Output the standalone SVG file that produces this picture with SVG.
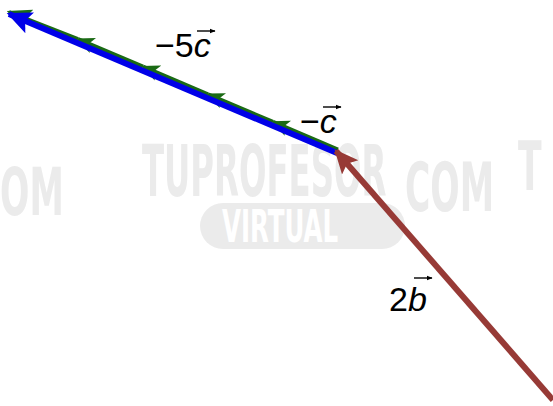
<svg xmlns="http://www.w3.org/2000/svg" width="553" height="406" viewBox="0 0 553 406">
<defs>
<style>
.wm{font-family:"DejaVu Sans Condensed","Liberation Sans",sans-serif;font-weight:bold;font-size:62px;fill:#ebebeb}
.lbl{font-family:"Liberation Sans",Arial,sans-serif;font-size:34px;fill:#000}
.it{font-style:italic}
.vec{stroke:#000;stroke-width:1.4;fill:none}
</style>
<marker id="hg" viewBox="0 0 10 10" refX="9" refY="5" markerWidth="18" markerHeight="18" markerUnits="userSpaceOnUse" orient="auto"><path d="M0,0.5 L10,5 L0,9.5 L2.5,5 Z" fill="#1a6a14"/></marker>
<marker id="hgb" viewBox="0 0 10 10" refX="9" refY="5" markerWidth="24" markerHeight="24" markerUnits="userSpaceOnUse" orient="auto"><path d="M0,0.5 L10,5 L0,9.5 L2,5 Z" fill="#1a6a14"/></marker>
<marker id="hb" viewBox="0 0 10 10" refX="9" refY="5" markerWidth="25" markerHeight="25" markerUnits="userSpaceOnUse" orient="auto"><path d="M0,0.5 L10,5 L0,9.5 L2,5 Z" fill="#0000e8"/></marker>
<marker id="hr" viewBox="0 0 10 10" refX="9" refY="5" markerWidth="24" markerHeight="24" markerUnits="userSpaceOnUse" orient="auto"><path d="M0,0.5 L10,5 L0,9.5 L2,5 Z" fill="#973a36"/></marker>
<marker id="hk" viewBox="0 0 10 10" refX="9" refY="5" markerWidth="6" markerHeight="6" markerUnits="userSpaceOnUse" orient="auto"><path d="M0,1 L10,5 L0,9 Z" fill="#000"/></marker>
</defs>
<g id="watermark">
<text class="wm" transform="translate(0,215) scale(0.62,1.05)">OM</text>
<text class="wm" transform="translate(142,196) scale(0.58,1.15)">TUPROFESOR</text>
<rect x="200" y="203" width="205" height="46" rx="23" fill="#ebebeb"/>
<text transform="translate(222,242) scale(0.62,1)" font-family="DejaVu Sans Condensed,sans-serif" font-weight="bold" font-size="44" fill="#ffffff">VIRTUAL</text>
<text class="wm" transform="translate(405,211) scale(0.62,1.1)">COM</text>
<text class="wm" transform="translate(518,190) scale(0.62,1.1)">T</text>
</g>
<g id="connectors">
<g id="minus-c-chain" stroke="#1a6a14" stroke-width="4" fill="none">
<line x1="338" y1="149.5" x2="273" y2="121.9" marker-end="url(#hg)"/>
<line x1="273" y1="121.9" x2="208" y2="94.3" marker-end="url(#hg)"/>
<line x1="208" y1="94.3" x2="143" y2="66.7" marker-end="url(#hg)"/>
<line x1="143" y1="66.7" x2="78" y2="39.1" marker-end="url(#hg)"/>
<line x1="78" y1="39.1" x2="9" y2="12" marker-end="url(#hgb)"/>
</g>
<line id="minus-5c" x1="337" y1="153" x2="9" y2="14" stroke="#0000e8" stroke-width="6" marker-end="url(#hb)"/>
<line id="two-b" x1="553" y1="400" x2="336" y2="151" stroke="#973a36" stroke-width="6" marker-end="url(#hr)"/>
</g>
<g id="label-5c">
<text class="lbl" x="155" y="57">−5<tspan class="it">c</tspan></text>
<line class="vec" x1="197" y1="31" x2="215" y2="31" marker-end="url(#hk)"/>
</g>
<g id="label-c">
<text class="lbl" x="300" y="133">−<tspan class="it">c</tspan></text>
<line class="vec" x1="323" y1="107" x2="341" y2="107" marker-end="url(#hk)"/>
</g>
<g id="label-2b">
<text class="lbl" x="389" y="311">2<tspan class="it">b</tspan></text>
<line class="vec" x1="414" y1="278" x2="432" y2="278" marker-end="url(#hk)"/>
</g>
</svg>
